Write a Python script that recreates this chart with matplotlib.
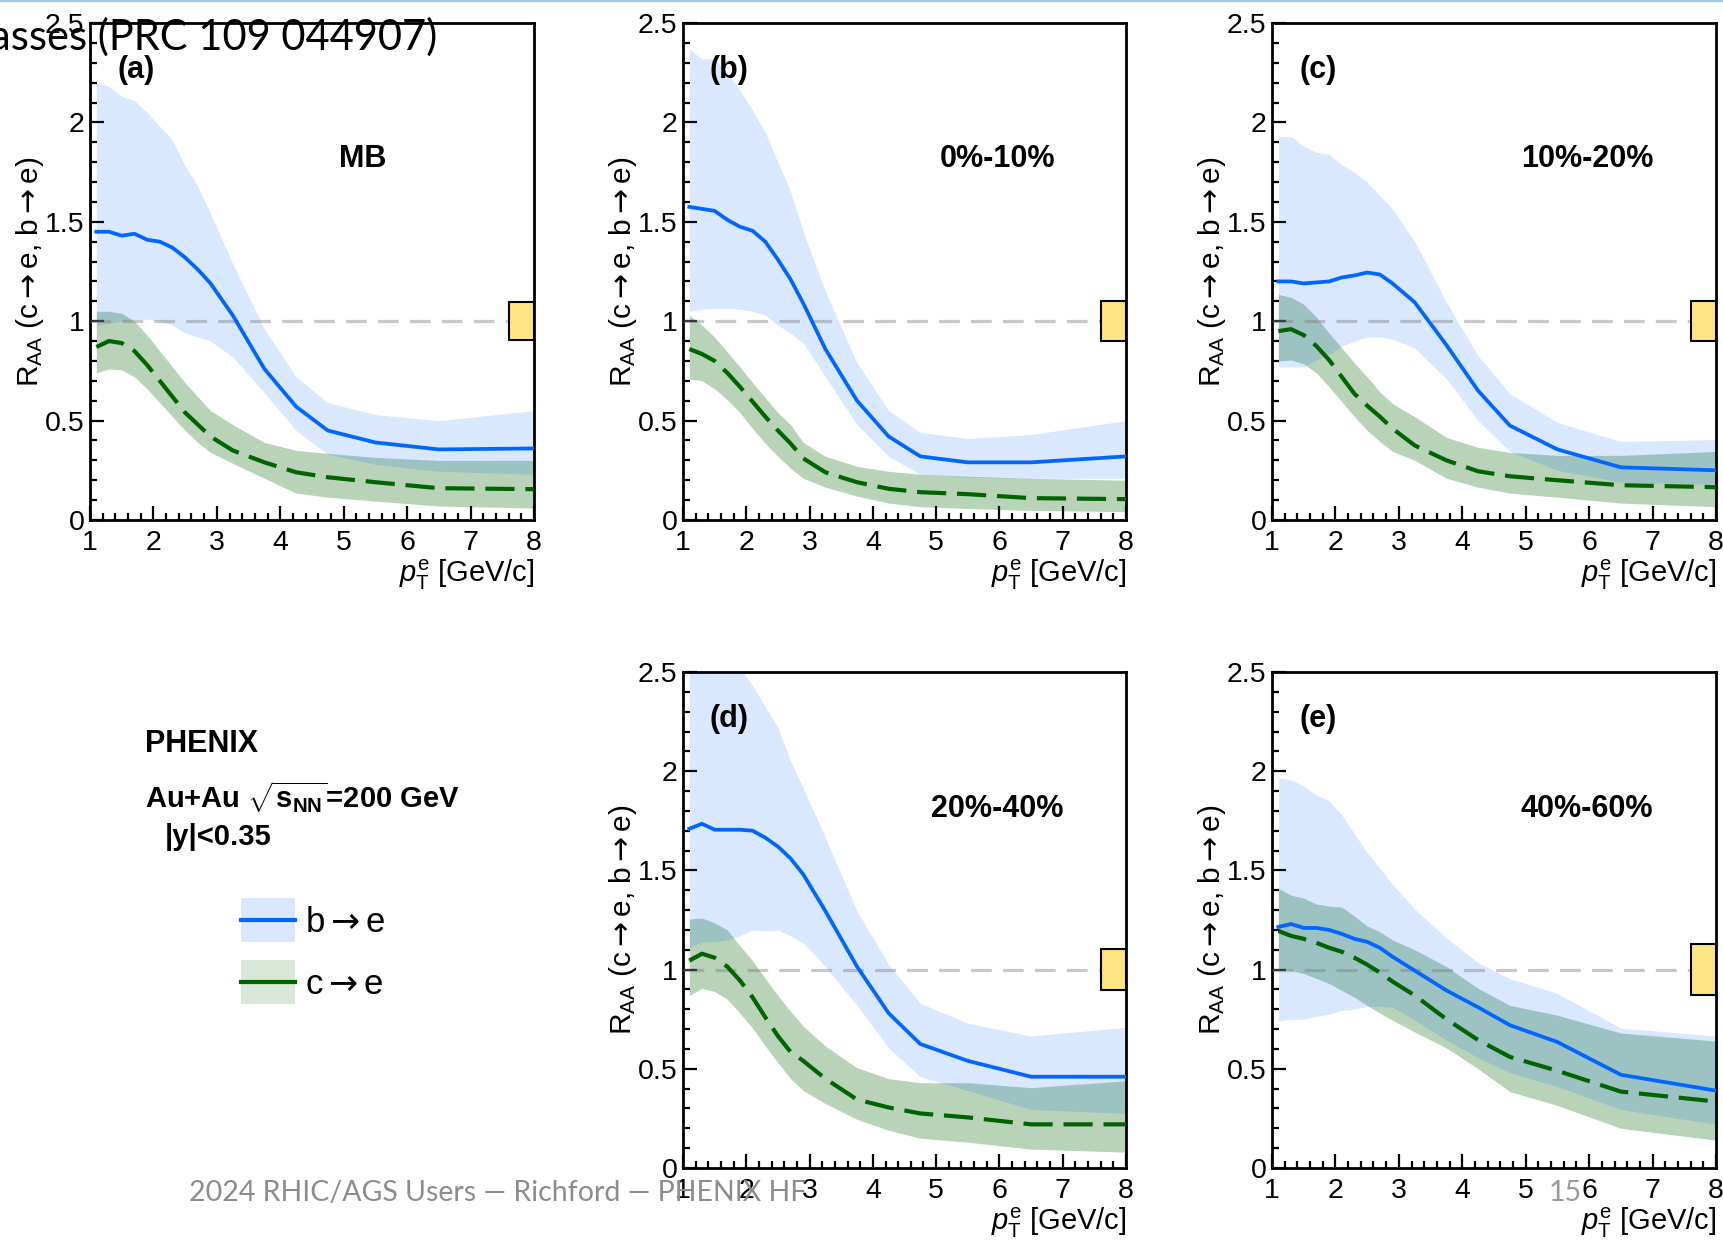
import matplotlib
matplotlib.use('Agg')
import matplotlib.pyplot as plt
from matplotlib.patches import Rectangle
from matplotlib.lines import Line2D
from matplotlib.ticker import MultipleLocator

plt.rcParams['font.family'] = ['Liberation Sans', 'DejaVu Sans']
plt.rcParams['mathtext.fontset'] = 'custom'
plt.rcParams['mathtext.rm'] = 'Liberation Sans'
plt.rcParams['mathtext.it'] = 'Liberation Sans:italic'
plt.rcParams['mathtext.bf'] = 'Liberation Sans:bold'
plt.rcParams['mathtext.sf'] = 'DejaVu Sans'

# ---------------- data ----------------
pt = [1.1, 1.3, 1.5, 1.7, 1.9, 2.1, 2.3, 2.5, 2.7, 2.9, 3.25, 3.75, 4.25, 4.75, 5.5, 6.5, 8.0]

panel_tags = ['(a)', '(b)', '(c)', '(d)', '(e)']
centralities = ['MB', '0%-10%', '10%-20%', '20%-40%', '40%-60%']
norm_unc = [0.095, 0.10, 0.10, 0.105, 0.13]
x_ticks = [1, 2, 3, 4, 5, 6, 7, 8]
y_ticks = [0, 0.5, 1, 1.5, 2, 2.5]
y_tick_labels = ['0', '0.5', '1', '1.5', '2', '2.5']

# MB
mb_b_mid = [1.45, 1.45, 1.43, 1.44, 1.41, 1.40, 1.37, 1.32, 1.26, 1.19, 1.03, 0.76, 0.57, 0.45, 0.39, 0.355, 0.36]
mb_b_hi = [2.20, 2.18, 2.13, 2.11, 2.05, 1.98, 1.91, 1.78, 1.68, 1.54, 1.29, 0.96, 0.72, 0.59, 0.53, 0.50, 0.55]
mb_b_lo = [0.98, 0.99, 1.00, 1.01, 1.01, 1.00, 0.98, 0.94, 0.92, 0.90, 0.82, 0.64, 0.45, 0.33, 0.28, 0.245, 0.23]
mb_c_mid = [0.87, 0.90, 0.89, 0.85, 0.78, 0.70, 0.62, 0.54, 0.48, 0.42, 0.35, 0.29, 0.24, 0.215, 0.19, 0.16, 0.155]
mb_c_hi = [1.05, 1.05, 1.04, 1.00, 0.93, 0.85, 0.77, 0.69, 0.62, 0.55, 0.48, 0.39, 0.35, 0.335, 0.315, 0.30, 0.30]
mb_c_lo = [0.74, 0.76, 0.755, 0.72, 0.66, 0.59, 0.52, 0.45, 0.39, 0.34, 0.285, 0.21, 0.135, 0.115, 0.095, 0.07, 0.06]

# 0-10%
c0_b_mid = [1.575, 1.565, 1.555, 1.51, 1.475, 1.455, 1.40, 1.31, 1.21, 1.09, 0.86, 0.60, 0.42, 0.32, 0.29, 0.29, 0.32]
c0_b_hi = [2.37, 2.32, 2.32, 2.25, 2.16, 2.06, 1.95, 1.80, 1.65, 1.45, 1.15, 0.79, 0.55, 0.44, 0.41, 0.43, 0.50]
c0_b_lo = [1.05, 1.06, 1.065, 1.065, 1.06, 1.05, 1.03, 0.98, 0.94, 0.89, 0.72, 0.48, 0.32, 0.23, 0.215, 0.21, 0.21]
c0_c_mid = [0.86, 0.835, 0.80, 0.74, 0.67, 0.595, 0.52, 0.45, 0.385, 0.31, 0.24, 0.19, 0.157, 0.14, 0.13, 0.11, 0.105]
c0_c_hi = [1.03, 0.98, 0.92, 0.845, 0.77, 0.69, 0.615, 0.54, 0.48, 0.39, 0.32, 0.27, 0.245, 0.23, 0.22, 0.21, 0.20]
c0_c_lo = [0.71, 0.70, 0.66, 0.605, 0.54, 0.46, 0.385, 0.32, 0.26, 0.21, 0.165, 0.12, 0.085, 0.067, 0.058, 0.048, 0.042]

# 10-20%
c10_b_mid = [1.20, 1.20, 1.19, 1.195, 1.20, 1.22, 1.23, 1.245, 1.235, 1.19, 1.095, 0.88, 0.65, 0.475, 0.355, 0.265, 0.25]
c10_b_hi = [1.93, 1.93, 1.88, 1.85, 1.84, 1.785, 1.75, 1.70, 1.63, 1.565, 1.40, 1.095, 0.825, 0.635, 0.49, 0.395, 0.405]
c10_b_lo = [0.77, 0.77, 0.77, 0.805, 0.835, 0.875, 0.90, 0.92, 0.92, 0.91, 0.865, 0.71, 0.50, 0.345, 0.25, 0.19, 0.18]
c10_c_mid = [0.95, 0.96, 0.93, 0.875, 0.805, 0.72, 0.635, 0.575, 0.52, 0.46, 0.375, 0.30, 0.245, 0.22, 0.20, 0.175, 0.165]
c10_c_hi = [1.135, 1.12, 1.085, 1.02, 0.94, 0.865, 0.79, 0.72, 0.645, 0.585, 0.52, 0.415, 0.365, 0.34, 0.325, 0.325, 0.345]
c10_c_lo = [0.80, 0.805, 0.785, 0.74, 0.67, 0.595, 0.52, 0.45, 0.395, 0.345, 0.30, 0.21, 0.165, 0.135, 0.115, 0.085, 0.067]

# 20-40%
c20_b_mid = [1.71, 1.735, 1.705, 1.705, 1.705, 1.70, 1.665, 1.62, 1.56, 1.48, 1.295, 1.015, 0.78, 0.625, 0.54, 0.46, 0.46]
c20_b_hi = [2.75, 2.70, 2.65, 2.60, 2.52, 2.43, 2.325, 2.22, 2.05, 1.915, 1.665, 1.295, 1.025, 0.83, 0.73, 0.665, 0.71]
c20_b_lo = [1.11, 1.14, 1.14, 1.15, 1.17, 1.20, 1.195, 1.20, 1.17, 1.135, 1.015, 0.82, 0.605, 0.46, 0.39, 0.295, 0.275]
c20_c_mid = [1.045, 1.08, 1.06, 1.015, 0.945, 0.86, 0.76, 0.665, 0.585, 0.54, 0.45, 0.345, 0.305, 0.275, 0.255, 0.22, 0.22]
c20_c_hi = [1.255, 1.26, 1.235, 1.20, 1.12, 1.045, 0.955, 0.87, 0.79, 0.715, 0.615, 0.505, 0.45, 0.43, 0.43, 0.405, 0.44]
c20_c_lo = [0.87, 0.905, 0.89, 0.85, 0.78, 0.705, 0.615, 0.53, 0.45, 0.39, 0.325, 0.245, 0.19, 0.15, 0.13, 0.095, 0.08]

# 40-60%
c40_b_mid = [1.215, 1.23, 1.21, 1.21, 1.20, 1.18, 1.155, 1.14, 1.11, 1.065, 0.995, 0.895, 0.81, 0.72, 0.635, 0.47, 0.39]
c40_b_hi = [1.965, 1.955, 1.925, 1.88, 1.85, 1.78, 1.685, 1.59, 1.51, 1.43, 1.305, 1.16, 1.035, 0.955, 0.88, 0.705, 0.665]
c40_b_lo = [0.74, 0.75, 0.75, 0.765, 0.775, 0.795, 0.80, 0.815, 0.815, 0.81, 0.745, 0.645, 0.555, 0.48, 0.41, 0.295, 0.22]
c40_c_mid = [1.195, 1.17, 1.155, 1.135, 1.11, 1.09, 1.06, 1.025, 0.985, 0.94, 0.87, 0.75, 0.645, 0.56, 0.49, 0.385, 0.335]
c40_c_hi = [1.41, 1.375, 1.36, 1.33, 1.32, 1.315, 1.27, 1.22, 1.19, 1.15, 1.10, 1.015, 0.905, 0.82, 0.77, 0.68, 0.64]
c40_c_lo = [1.005, 0.995, 0.98, 0.955, 0.93, 0.895, 0.86, 0.82, 0.78, 0.745, 0.685, 0.605, 0.50, 0.385, 0.315, 0.20, 0.14]

panels = [
    (mb_b_mid, mb_b_lo, mb_b_hi, mb_c_mid, mb_c_lo, mb_c_hi),
    (c0_b_mid, c0_b_lo, c0_b_hi, c0_c_mid, c0_c_lo, c0_c_hi),
    (c10_b_mid, c10_b_lo, c10_b_hi, c10_c_mid, c10_c_lo, c10_c_hi),
    (c20_b_mid, c20_b_lo, c20_b_hi, c20_c_mid, c20_c_lo, c20_c_hi),
    (c40_b_mid, c40_b_lo, c40_b_hi, c40_c_mid, c40_c_lo, c40_c_hi),
]

# ---------------- style ----------------
W, H = 1724, 1246
BLUE = '#0066ff'
GREEN = '#006400'
ARROW = r'$\mathsf{\rightarrow}$'
fig = plt.figure(figsize=(W / 100, H / 100), dpi=100)

# overlay axes in pixel coordinates (for legend graphics)
ov = fig.add_axes([0, 0, 1, 1])
ov.set_xlim(0, W)
ov.set_ylim(H, 0)
ov.axis('off')

# panel boxes in pixels: (left, right, top, bottom)
boxes = [(90, 534, 23, 520), (683, 1126, 23, 520), (1272, 1716, 23, 520),
         (683, 1126, 672, 1168), (1272, 1716, 672, 1168)]

for i, (l, r, t, b) in enumerate(boxes):
    ax = fig.add_axes([l / W, 1 - b / H, (r - l) / W, (b - t) / H])
    b_mid, b_lo, b_hi, c_mid, c_lo, c_hi = panels[i]
    ax.fill_between(pt, c_lo, c_hi, color=GREEN, alpha=0.28, lw=0, zorder=1)
    ax.fill_between(pt, b_lo, b_hi, color=BLUE, alpha=0.15, lw=0, zorder=2)
    ax.axhline(1.0, color='#808080', alpha=0.43, lw=2.3, ls=(0, (6.5, 3.5)), zorder=3)
    ax.plot(pt, b_mid, color=BLUE, lw=2.7, zorder=4, solid_joinstyle='round')
    ax.plot(pt, c_mid, color=GREEN, lw=3.0, ls=(0, (7, 2.6)), zorder=4)
    u = norm_unc[i]
    ax.add_patch(Rectangle((7.6, 1 - u), 0.4, 2 * u, facecolor='#fde583',
                           edgecolor='black', lw=1.5, zorder=5))
    ax.set_xlim(1, 8)
    ax.set_ylim(0, 2.5)
    ax.set_xticks(x_ticks)
    ax.set_xticklabels([str(v) for v in x_ticks])
    ax.set_yticks(y_ticks)
    ax.set_yticklabels(y_tick_labels)
    ax.xaxis.set_minor_locator(MultipleLocator(0.2))
    ax.yaxis.set_minor_locator(MultipleLocator(0.1))
    ax.tick_params(which='both', direction='in', top=False, right=False,
                   labelsize=20.5, width=1.6, color='black')
    ax.tick_params(which='major', length=10)
    ax.tick_params(which='minor', length=5)
    ax.tick_params(axis='x', pad=7)
    ax.tick_params(axis='y', pad=4)
    for s in ax.spines.values():
        s.set_linewidth(2.0)
    ax.set_ylabel(r'R$_{\mathrm{AA}}$ (c' + ARROW + 'e, b' + ARROW + 'e)', fontsize=21.5)
    ax.yaxis.set_label_coords(-0.10, 0.5)
    ax.set_xlabel(r'$p_{\mathrm{T}}^{\mathrm{e}}$ [GeV/c]', fontsize=21, ha='right')
    ax.xaxis.set_label_coords(1.0, -0.075)
    ax.text(0.103, 0.906, panel_tags[i], transform=ax.transAxes, ha='center',
            va='center', fontsize=22, fontweight='bold')
    ax.text(0.615 if i == 0 else 0.71, 0.726 if i < 3 else 0.723, centralities[i],
            transform=ax.transAxes, ha='center', va='center', fontsize=22,
            fontweight='bold')

# ---------------- info / legend ----------------
ov.text(145, 744, 'PHENIX', fontsize=22, fontweight='bold', va='center', ha='left')
ov.text(145, 797, r'Au+Au $\sqrt{\mathbf{s}_{\mathbf{NN}}}$=200 GeV', fontsize=21,
        fontweight='bold', va='center', ha='left')
ov.text(165, 837, '|y|<0.35', fontsize=21, fontweight='bold', va='center', ha='left')

ov.add_patch(Rectangle((241, 898), 54, 44, facecolor=BLUE, alpha=0.15, lw=0))
ov.plot([241, 295], [920, 920], color=BLUE, lw=3)
ov.text(305, 922, 'b' + ARROW + 'e', fontsize=25, va='center', ha='left')
ov.add_patch(Rectangle((241, 960), 54, 44, facecolor=GREEN, alpha=0.15, lw=0))
ov.plot([241, 295], [982, 982], color=GREEN, lw=3)
ov.text(305, 985, 'c' + ARROW + 'e', fontsize=25, va='center', ha='left')

# ---------------- slide decorations ----------------
fig.add_artist(Line2D([0, 1], [1 - 1 / H, 1 - 1 / H], transform=fig.transFigure,
                      color='#9dc3e6', lw=1.6))
fig.text(437 / W, 1 - 37 / H, 'asses (PRC 109 044907)', ha='right', va='center',
         fontsize=30, family=['Lato', 'DejaVu Sans'], color='black')
fig.text(189 / W, 1 - 1193 / H, '2024 RHIC/AGS Users — Richford — PHENIX HF',
         ha='left', va='center', fontsize=20.5, family=['Lato', 'DejaVu Sans'],
         color='#8c8c8c')
fig.text(1549 / W, 1 - 1193 / H, '15', ha='left', va='center', fontsize=20.5,
         family=['Lato', 'DejaVu Sans'], color='#999999')

fig.savefig('out.png', dpi=100)
